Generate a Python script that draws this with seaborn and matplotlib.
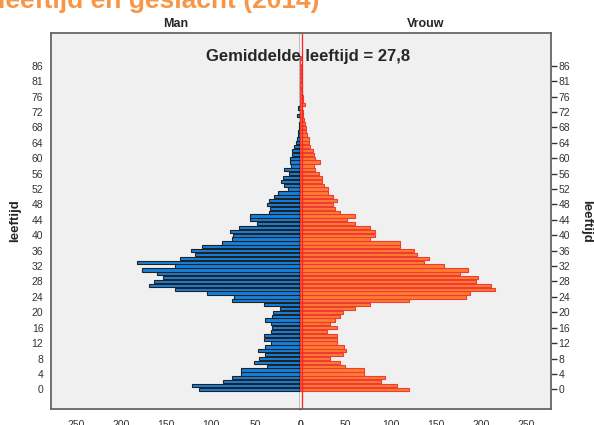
import pandas as pd
import matplotlib
matplotlib.use('Agg')
import matplotlib.pyplot as plt
import seaborn as sns

# leeftijdscategorieen (SPSS slaat 80 en 85 over)
ages = list(range(0, 80)) + [81, 82, 83, 84, 86, 87, 89]

man = [113, 121, 86, 76, 66, 66, 37, 52, 46, 39, 47, 39, 33, 41, 41, 33, 32, 33, 40, 32,
       31, 23, 41, 76, 74, 104, 140, 169, 163, 153, 160, 177, 140, 182, 134, 118, 122, 110, 87, 76,
       75, 79, 69, 49, 56, 56, 35, 34, 37, 35, 29, 25, 14, 18, 22, 20, 13, 18, 11, 12,
       12, 10, 9, 7, 5, 4, 3, 3, 2, 2, 1, 4, 1, 3, 1, 1, 1, 1, 0, 1,
       0, 1, 0, 1, 0, 0, 1]

vrouw = [120, 107, 89, 94, 71, 70, 49, 44, 33, 47, 51, 48, 41, 40, 40, 29, 40, 33, 38, 44,
         47, 60, 77, 120, 184, 188, 216, 211, 195, 197, 177, 186, 159, 137, 143, 129, 126, 110, 110, 77,
         83, 83, 77, 60, 52, 61, 44, 38, 36, 40, 36, 31, 30, 26, 24, 24, 20, 16, 15, 22,
         16, 15, 14, 11, 9, 9, 7, 6, 6, 5, 4, 3, 3, 2, 5, 3, 3, 2, 1, 2,
         1, 1, 1, 1, 1, 0, 1]

gemiddelde = '27,8'
x_ticks = [0, 50, 100, 150, 200, 250]

df = pd.DataFrame({'leeftijd': [str(a) for a in ages], 'Man': man, 'Vrouw': vrouw})
order = df['leeftijd'].tolist()

sns.set_style('white')
plt.rcParams['font.family'] = ['Liberation Sans', 'DejaVu Sans']

fig = plt.figure(figsize=(5.94, 4.25), dpi=100)
W, H = 594, 425
top, bottom = 33, 409
ax_l = fig.add_axes([51 / W, (H - bottom) / H, 249.5 / W, (bottom - top) / H])
ax_r = fig.add_axes([300.5 / W, (H - bottom) / H, 250.5 / W, (bottom - top) / H])

sns.barplot(data=df, x='Man', y='leeftijd', order=order, orient='h', color='#1282E2',
            edgecolor='#222222', linewidth=0.8, width=0.85, saturation=1, ax=ax_l)
sns.barplot(data=df, x='Vrouw', y='leeftijd', order=order, orient='h', color='#FF7C30',
            edgecolor='#EE3B33', linewidth=0.8, width=0.85, saturation=1, ax=ax_r)

tick_pos = list(range(0, 85, 4))
tick_lab = [order[i] for i in tick_pos]

for ax in (ax_l, ax_r):
    ax.set_facecolor('#F0F0F0')
    ax.set_ylim(-5.1, 92.5)
    ax.set_xticks(x_ticks)
    ax.set_xticklabels([str(t) for t in x_ticks], fontsize=7.5, color='#333333')
    ax.set_yticks(tick_pos)
    ax.set_yticklabels(tick_lab, fontsize=7.5, color='#333333')
    ax.set_xlabel('')
    ax.set_ylabel('')
    for s in ax.spines.values():
        s.set_color('#666666')
        s.set_linewidth(1.3)
    ax.tick_params(axis='x', length=0, pad=8)
    ax.tick_params(axis='y', length=4, width=1, color='#333333', pad=1.5)

ax_l.set_xlim(278, 0)
ax_r.set_xlim(0, 278)
ax_l.spines['right'].set_color('black')
ax_l.spines['right'].set_linewidth(1.0)
ax_r.spines['left'].set_visible(False)
ax_r.yaxis.tick_right()
ax_r.axvline(2, color='#FF2020', lw=0.9)

ax_l.set_title('Man', fontsize=9, fontweight='bold', pad=4)
ax_r.set_title('Vrouw', fontsize=9, fontweight='bold', pad=4)

fig.text(15 / W, 1 - 221 / H, 'leeftijd', rotation=90, fontsize=9.5, fontweight='bold',
         ha='center', va='center')
fig.text(586 / W, 1 - 221 / H, 'leeftijd', rotation=270, fontsize=9.5, fontweight='bold',
         ha='center', va='center')

fig.text(308 / W, 1 - 57 / H, 'Gemiddelde leeftijd = ' + gemiddelde, fontsize=12,
         fontweight='bold', ha='center', va='center')

fig.text(320 / W, 1 - 8 / H, 'leeftijd en geslacht (2014)', fontsize=19, fontweight='bold',
         color='#F79646', ha='right', va='baseline')

fig.savefig('out.png', dpi=100)
